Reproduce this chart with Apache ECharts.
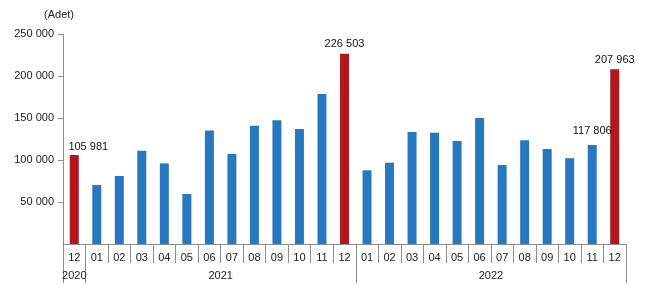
<!DOCTYPE html>
<html>
<head>
<meta charset="utf-8">
<script src="https://cdn.jsdelivr.net/npm/echarts@6/dist/echarts.min.js"></script>
<style>html,body{margin:0;padding:0;background:#fff}#c{width:650px;height:296px}</style>
</head>
<body>
<div id="c"></div>
<script>
const months = ['12','01','02','03','04','05','06','07','08','09','10','11','12','01','02','03','04','05','06','07','08','09','10','11','12'];
const values = [105981, 70200, 81000, 111000, 96000, 59500, 135000, 107000, 140800, 147200, 136900, 178600, 226503,
                87700, 96800, 133300, 132500, 122600, 150000, 94000, 123400, 113000, 102000, 117806, 207963];
const highlight = [0, 12, 24];
const labelled = [0, 12, 23, 24];
const years = ['2020', '2021', '2022'];
const yearBoundaries = [0, 1, 13, 25];
const yearCenters = [0.5, 7, 19];

const BLUE = '#2878c0', RED = '#b01820', AXIS = '#8c8c8c';
const fmt = v => String(v).replace(/\B(?=(\d{3})+(?!\d))/g, ' ');

const labelOffsets = { 0: [14, 1], 23: [0, -5] };
const data = values.map((v, i) => ({
  value: v,
  itemStyle: { color: highlight.includes(i) ? RED : BLUE },
  label: { show: labelled.includes(i), offset: labelOffsets[i] || [0, 0] }
}));

const chart = echarts.init(document.getElementById('c'), null, { renderer: 'canvas' });
chart.setOption({
  animation: false,
  textStyle: { fontFamily: 'Liberation Sans, Arial, sans-serif' },
  grid: { left: 63, right: 24, top: 34, bottom: 52, containLabel: false },
  xAxis: [
    {
      type: 'category',
      data: months,
      boundaryGap: true,
      axisLine: { lineStyle: { color: AXIS, width: 1 } },
      axisTick: { show: true, interval: 0, length: 19, lineStyle: { color: AXIS } },
      axisLabel: { interval: 0, color: '#222', fontSize: 11, margin: 8 }
    },
    {
      type: 'value',
      position: 'bottom',
      min: 0, max: 25,
      axisLine: { show: false },
      splitLine: { show: false },
      axisTick: { show: true, customValues: yearBoundaries, length: 39, lineStyle: { color: AXIS } },
      axisLabel: {
        customValues: yearCenters, color: '#222', fontSize: 11, margin: 26,
        formatter: v => years[yearCenters.indexOf(v)] || ''
      }
    }
  ],
  yAxis: {
    type: 'value',
    min: 0, max: 250000, interval: 50000,
    name: '(Adet)',
    nameLocation: 'end',
    nameGap: 14,
    nameTextStyle: { color: '#222', fontSize: 11, padding: [0, 8, 0, 0] },
    axisLine: { show: true, lineStyle: { color: AXIS } },
    axisTick: { show: true, length: 5, lineStyle: { color: AXIS } },
    splitLine: { show: false },
    axisLabel: { showMinLabel: false, color: '#222', fontSize: 11, margin: 9, formatter: v => fmt(v) }
  },
  series: [{
    type: 'bar',
    xAxisIndex: 0,
    data: data,
    barWidth: 9,
    label: { position: 'top', distance: 4, color: '#111', fontSize: 11, formatter: p => fmt(p.value) }
  }]
});
</script>
</body>
</html>
